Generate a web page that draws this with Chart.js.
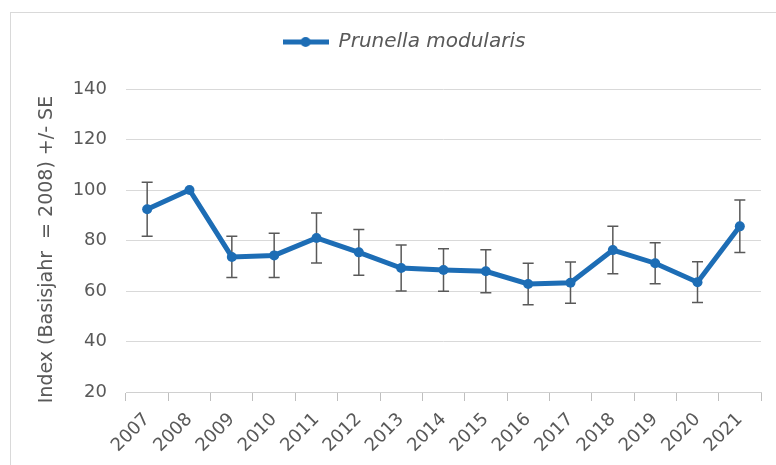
<!DOCTYPE html>
<html>
<head>
<meta charset="utf-8">
<script src="https://cdn.jsdelivr.net/npm/chart.js@4/dist/chart.umd.min.js"></script>
<style>
    html, body { margin: 0; padding: 0; background: #fff; overflow: hidden; }
    #wrap { position: relative; width: 776px; height: 465px; overflow: hidden; }
    #rahmen { position: absolute; left: 10px; top: 12px; width: 766px; height: 453px; border-top: 1px solid #d9d9d9; border-left: 1px solid #d9d9d9; }
    #grafik { position: absolute; left: 0; top: 0; }
</style>
</head>
<body>
<div id="wrap">
    <div id="rahmen"></div>
    <canvas id="grafik" width="776" height="465"></canvas>
</div>
<script>
const jahre = ['2007', '2008', '2009', '2010', '2011', '2012', '2013', '2014', '2015', '2016', '2017', '2018', '2019', '2020', '2021']
const index = [92.4, 100, 73.5, 74.1, 81.0, 75.3, 69.1, 68.3, 67.8, 62.8, 63.3, 76.2, 71.0, 63.5, 85.6]
const se = [10.7, 0, 8.2, 8.8, 9.9, 9.1, 9.1, 8.4, 8.5, 8.2, 8.2, 9.4, 8.1, 8.1, 10.4]
const yTicks = [20, 40, 60, 80, 100, 120, 140]

const blau = '#1d6db5'
const grau = '#595959'
const schrift = 'DejaVu Sans'

// Legendensymbol: Linie mit Punkt in der Mitte
function legendenSymbol() {
    const c = document.createElement('canvas')
    c.width = 46
    c.height = 12
    const g = c.getContext('2d')
    g.strokeStyle = blau
    g.lineWidth = 5
    g.beginPath()
    g.moveTo(0, 6)
    g.lineTo(46, 6)
    g.stroke()
    g.fillStyle = blau
    g.beginPath()
    g.arc(23, 6, 5, 0, Math.PI * 2)
    g.fill()
    return c
}

// Fehlerbalken (+/- SE) unter der Linie zeichnen
const fehlerbalken = {
    id: 'fehlerbalken',
    beforeDatasetsDraw(chart) {
        const ctx = chart.ctx
        const x = chart.scales.x
        const y = chart.scales.y
        ctx.save()
        ctx.strokeStyle = grau
        ctx.lineWidth = 1.5
        index.forEach((wert, i) => {
            if (!se[i]) return
            const px = x.getPixelForValue(i)
            const oben = y.getPixelForValue(wert + se[i])
            const unten = y.getPixelForValue(wert - se[i])
            ctx.beginPath()
            ctx.moveTo(px, oben)
            ctx.lineTo(px, unten)
            ctx.moveTo(px - 5.5, oben)
            ctx.lineTo(px + 5.5, oben)
            ctx.moveTo(px - 5.5, unten)
            ctx.lineTo(px + 5.5, unten)
            ctx.stroke()
        })
        ctx.restore()
    }
}

// feste Höhe für die Legende
const legendeHoehe = {
    id: 'legendeHoehe',
    beforeLayout(chart) {
        const lg = chart.legend
        if (!lg || lg._feste) return
        const fit = lg.fit
        lg.fit = function () {
            fit.call(this)
            this.height = 77
        }
        lg._feste = true
    }
}

const ctx = document.getElementById('grafik').getContext('2d')

new Chart(ctx, {
    type: 'line',
    data: {
        labels: jahre,
        datasets: [{
            label: 'Prunella modularis',
            data: index,
            borderColor: blau,
            backgroundColor: blau,
            borderWidth: 5,
            pointRadius: 5,
            pointBorderWidth: 0,
            pointBackgroundColor: blau,
            tension: 0
        }]
    },
    options: {
        responsive: false,
        animation: false,
        layout: {
            padding: { top: 12, left: 47, right: 15, bottom: 0 }
        },
        plugins: {
            tooltip: { enabled: false },
            legend: {
                position: 'top',
                labels: {
                    usePointStyle: true,
                    pointStyle: legendenSymbol(),
                    pointStyleWidth: 46,
                    padding: 20,
                    color: grau,
                    font: { family: schrift, size: 20, style: 'italic' }
                }
            }
        },
        scales: {
            x: {
                offset: true,
                grid: {
                    offset: true,
                    drawOnChartArea: false,
                    tickLength: 9,
                    color: '#bfbfbf'
                },
                border: { color: '#d0d0d0' },
                ticks: {
                    color: grau,
                    minRotation: 45,
                    maxRotation: 45,
                    padding: 8,
                    font: { family: schrift, size: 18 }
                },
                afterFit(scale) {
                    scale.height = 73
                }
            },
            y: {
                min: 20,
                max: 140,
                afterBuildTicks(scale) {
                    scale.ticks = yTicks.map(v => ({ value: v }))
                },
                grid: { color: '#d9d9d9', drawTicks: false },
                border: { display: false },
                ticks: {
                    color: grau,
                    padding: 19,
                    font: { family: schrift, size: 18 }
                },
                title: {
                    display: true,
                    // Leerzeichen am Ende schieben den Titel etwas nach unten
                    text: 'Index (Basisjahr  = 2008) +/- SE   ',
                    color: grau,
                    padding: { top: -11, bottom: 0 },
                    font: { family: schrift, size: 19 }
                },
                afterFit(scale) {
                    scale.width = 79
                }
            }
        }
    },
    plugins: [fehlerbalken, legendeHoehe]
})
</script>
</body>
</html>
